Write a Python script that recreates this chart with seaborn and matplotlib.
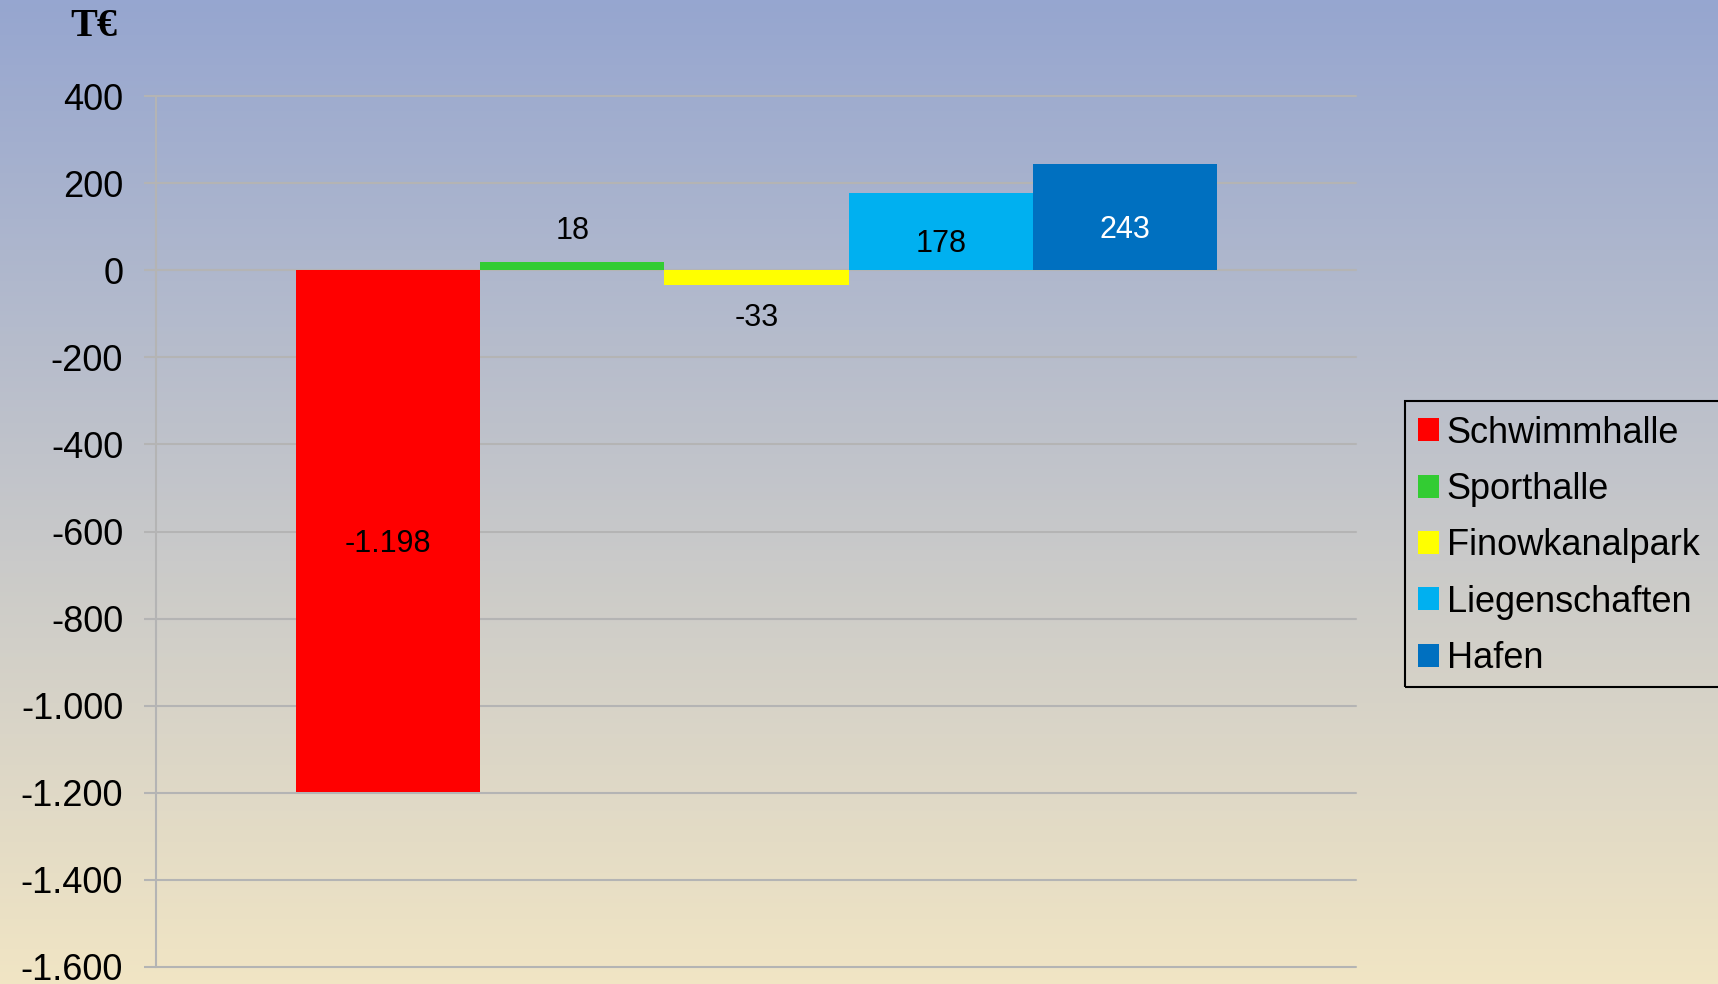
import numpy as np
import matplotlib
matplotlib.use("Agg")
import matplotlib.pyplot as plt
import matplotlib.patches as mpatches
import seaborn as sns
from matplotlib.ticker import FuncFormatter, FixedLocator

categories = ["Schwimmhalle", "Sporthalle", "Finowkanalpark", "Liegenschaften", "Hafen"]
values = [-1198, 18, -33, 178, 243]
colors = ["#FF0000", "#33CC33", "#FFFF00", "#00B0F0", "#0070C0"]
label_colors = ["black", "black", "black", "black", "white"]
yticks = [400, 200, 0, -200, -400, -600, -800, -1000, -1200, -1400, -1600]
unit_label = "T€"

sns.set_theme(style="white")
plt.rcParams['font.family'] = ['Liberation Sans', 'DejaVu Sans']
plt.rcParams['text.color'] = 'black'

W, H = 1718, 984
fig = plt.figure(figsize=(W / 100, H / 100), dpi=100)

# gradient background
bg = fig.add_axes([0, 0, 1, 1], zorder=-10)
top = np.array([150, 166, 208]) / 255.0
bot = np.array([241, 229, 196]) / 255.0
t = np.linspace(0, 1, 256)[:, None]
grad = (top[None, :] * (1 - t) + bot[None, :] * t)[:, None, :]
bg.imshow(grad, aspect="auto", extent=[0, 1, 0, 1])
bg.set_axis_off()

ax = fig.add_axes([156 / W, 1 - 967 / H, 1200 / W, (967 - 96) / H])
ax.set_facecolor("none")
ax.patch.set_alpha(0)

sns.barplot(x=categories, y=values, hue=categories, palette=colors,
            width=1.0, dodge=False, saturation=1, ax=ax, legend=True,
            linewidth=0, edgecolor="none")

ax.set_xlim(-0.5 - 140 / 184, 4.5 + 139 / 184)
ax.set_ylim(-1600, 400)
ax.yaxis.set_major_locator(FixedLocator(yticks))
ax.yaxis.set_major_formatter(FuncFormatter(lambda v, p: f"{int(v):,}".replace(",", ".")))
ax.set_xticks([])
ax.set_xlabel("")
ax.set_ylabel("")

grid_c = "#B4B4B4"
ax.grid(axis="y", color=grid_c, linewidth=1.5, zorder=0)
ax.set_axisbelow(True)
for s in ["top", "right", "bottom"]:
    ax.spines[s].set_visible(False)
ax.spines["left"].set_color(grid_c)
ax.spines["left"].set_linewidth(1.5)
ax.tick_params(axis="y", which="major", left=True, length=8.6, width=1.5,
               color=grid_c, labelsize=26, labelcolor="black", pad=15)
for lbl in ax.get_yticklabels():
    lbl.set_clip_on(False)
for gl in ax.yaxis.get_gridlines():
    gl.set_clip_on(False)

# bar labels
lab_font = dict(family=["Liberation Sans Narrow", "Liberation Sans"], fontsize=22)
for bar, v, lc in zip(ax.patches, values, label_colors):
    lbl = f"{v:,}".replace(",", ".")
    cx = bar.get_x() + bar.get_width() / 2
    if abs(v) >= 100:
        ax.annotate(lbl, (cx, v / 2), xytext=(0, -9), textcoords="offset points",
                    ha="center", va="center", color=lc, **lab_font)
    elif v >= 0:
        ax.annotate(lbl, (cx, v), xytext=(0, 12), textcoords="offset points",
                    ha="center", va="bottom", color=lc, **lab_font)
    else:
        ax.annotate(lbl, (cx, v), xytext=(0, -13), textcoords="offset points",
                    ha="center", va="top", color=lc, **lab_font)

# unit label
fig.text(94 / W, 1 - 27 / H, unit_label, ha="center", va="center", color="black",
         family=["Liberation Serif", "DejaVu Serif"], fontweight="bold", fontsize=29)

# legend
leg_old = ax.get_legend()
handles = leg_old.legend_handles
labels = [t.get_text() for t in leg_old.get_texts()]
leg_old.remove()
leg = fig.legend(handles, labels, loc="upper left", bbox_to_anchor=(1405 / W, 1 - 403 / H),
                 fontsize=26, frameon=False, handlelength=0.6, handleheight=0.6,
                 handletextpad=0.2, labelspacing=0.59, borderpad=0.35, borderaxespad=0,
                 labelcolor="black")
for h in leg.legend_handles:
    h.set_linewidth(0)
frame = mpatches.Rectangle((1405 / W, 1 - 687 / H), (1740 - 1405) / W, (687 - 401) / H,
                           transform=fig.transFigure, fill=False, edgecolor="black",
                           linewidth=1.5, clip_on=False)
fig.add_artist(frame)

fig.savefig("out.png", dpi=100)
